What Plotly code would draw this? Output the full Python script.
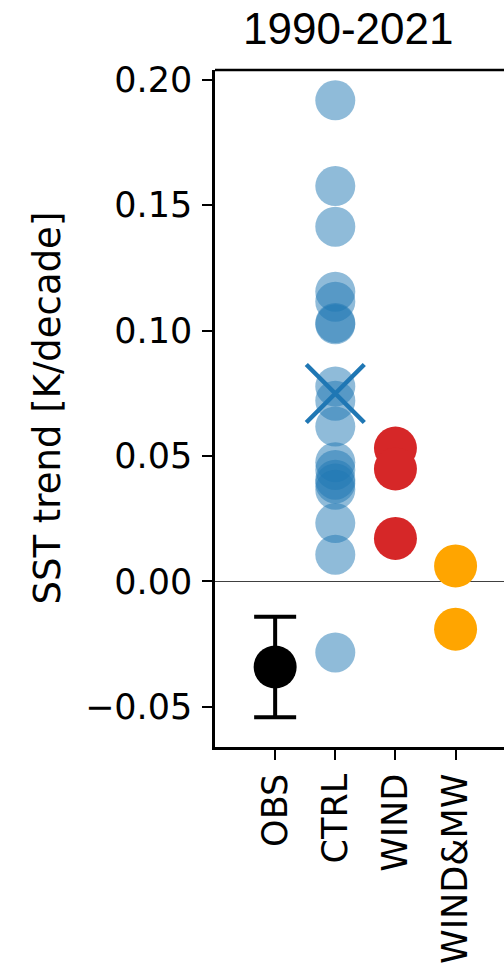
import numpy as np
import plotly.graph_objects as go

# Categories along the x axis
categories = ["OBS", "CTRL", "WIND", "WIND&MW"]

# SST trends [K/decade], 1990-2021
obs_trend = [-0.0342]
obs_error = [0.020]
ctrl_trends = [0.1918, 0.1576, 0.1414, 0.1155, 0.1115, 0.1030, 0.1025,
               0.0777, 0.0720, 0.0617, 0.0475, 0.0444, 0.0405, 0.0390,
               0.0365, 0.0232, 0.0106, -0.0284]
wind_trends = [0.0531, 0.0448, 0.0171]
windmw_trends = [0.0061, -0.0191]

# Axis ticks
y_tickvals = [-0.05, 0.0, 0.05, 0.10, 0.15, 0.20]
y_ticktext = ["\u22120.05", "0.00", "0.05", "0.10", "0.15", "0.20"]

TAB_BLUE = "#1f77b4"
TAB_RED = "#d62728"
ORANGE = "#ffa500"

fig = go.Figure()

# Observations with uncertainty
fig.add_trace(go.Scatter(
    x=[0] * len(obs_trend), y=obs_trend, mode="markers",
    marker=dict(size=43, color="black", line=dict(width=0)),
    error_y=dict(type="data", array=obs_error, visible=True,
                 color="black", thickness=4, width=21),
    showlegend=False,
))

# Control ensemble members
fig.add_trace(go.Scatter(
    x=[1] * len(ctrl_trends), y=ctrl_trends, mode="markers",
    marker=dict(size=40, color=TAB_BLUE, opacity=0.5, line=dict(width=0)),
    showlegend=False,
))

# Ensemble mean of control runs
fig.add_trace(go.Scatter(
    x=[1], y=[float(np.mean(ctrl_trends))], mode="markers",
    marker=dict(size=58, symbol="x-thin", color=TAB_BLUE,
                line=dict(width=4.5, color=TAB_BLUE)),
    showlegend=False,
))

# Wind-forced runs
fig.add_trace(go.Scatter(
    x=[2] * len(wind_trends), y=wind_trends, mode="markers",
    marker=dict(size=43, color=TAB_RED, line=dict(width=0)),
    showlegend=False,
))

# Wind + meltwater runs
fig.add_trace(go.Scatter(
    x=[3] * len(windmw_trends), y=windmw_trends, mode="markers",
    marker=dict(size=43, color=ORANGE, line=dict(width=0)),
    showlegend=False,
))

tick_font = dict(family="DejaVu Sans", size=35, color="black")

fig.update_layout(
    width=504, height=967,
    margin=dict(l=215, r=0, t=70, b=220),
    plot_bgcolor="white", paper_bgcolor="white",
    xaxis=dict(
        range=[-1.0, 3.805],
        tickmode="array", tickvals=list(range(len(categories))),
        ticktext=categories, tickangle=-90,
        ticks="outside", ticklen=10, tickwidth=2, tickcolor="black",
        showline=True, linewidth=2.5, linecolor="black",
        showgrid=False, zeroline=False,
        tickfont=tick_font,
    ),
    yaxis=dict(
        range=[-0.0661, 0.2039],
        tickmode="array", tickvals=y_tickvals, ticktext=y_ticktext,
        ticks="outside", ticklen=10, tickwidth=2, tickcolor="black",
        ticklabelstandoff=3,
        showline=True, linewidth=2.5, linecolor="black",
        showgrid=False,
        zeroline=True, zerolinecolor="rgba(0,0,0,0.75)", zerolinewidth=1.2,
        tickfont=tick_font,
    ),
    shapes=[dict(type="line", xref="paper", yref="paper",
                 x0=0, x1=1, y0=1, y1=1,
                 line=dict(color="black", width=2.5))],
    annotations=[
        dict(text="1990-2021", xref="paper", yref="paper",
             x=(347.5 - 215) / 289, y=1 + (70 - 28) / 677,
             xanchor="center", yanchor="middle", showarrow=False,
             font=dict(family="Liberation Sans", size=44, color="black")),
        dict(text="SST trend [K/decade]", xref="paper", yref="paper",
             x=(47 - 215) / 289, y=0.5, textangle=-90,
             xanchor="center", yanchor="middle", showarrow=False,
             font=dict(family="DejaVu Sans", size=37, color="black")),
    ],
)

fig.write_html("out.html")
